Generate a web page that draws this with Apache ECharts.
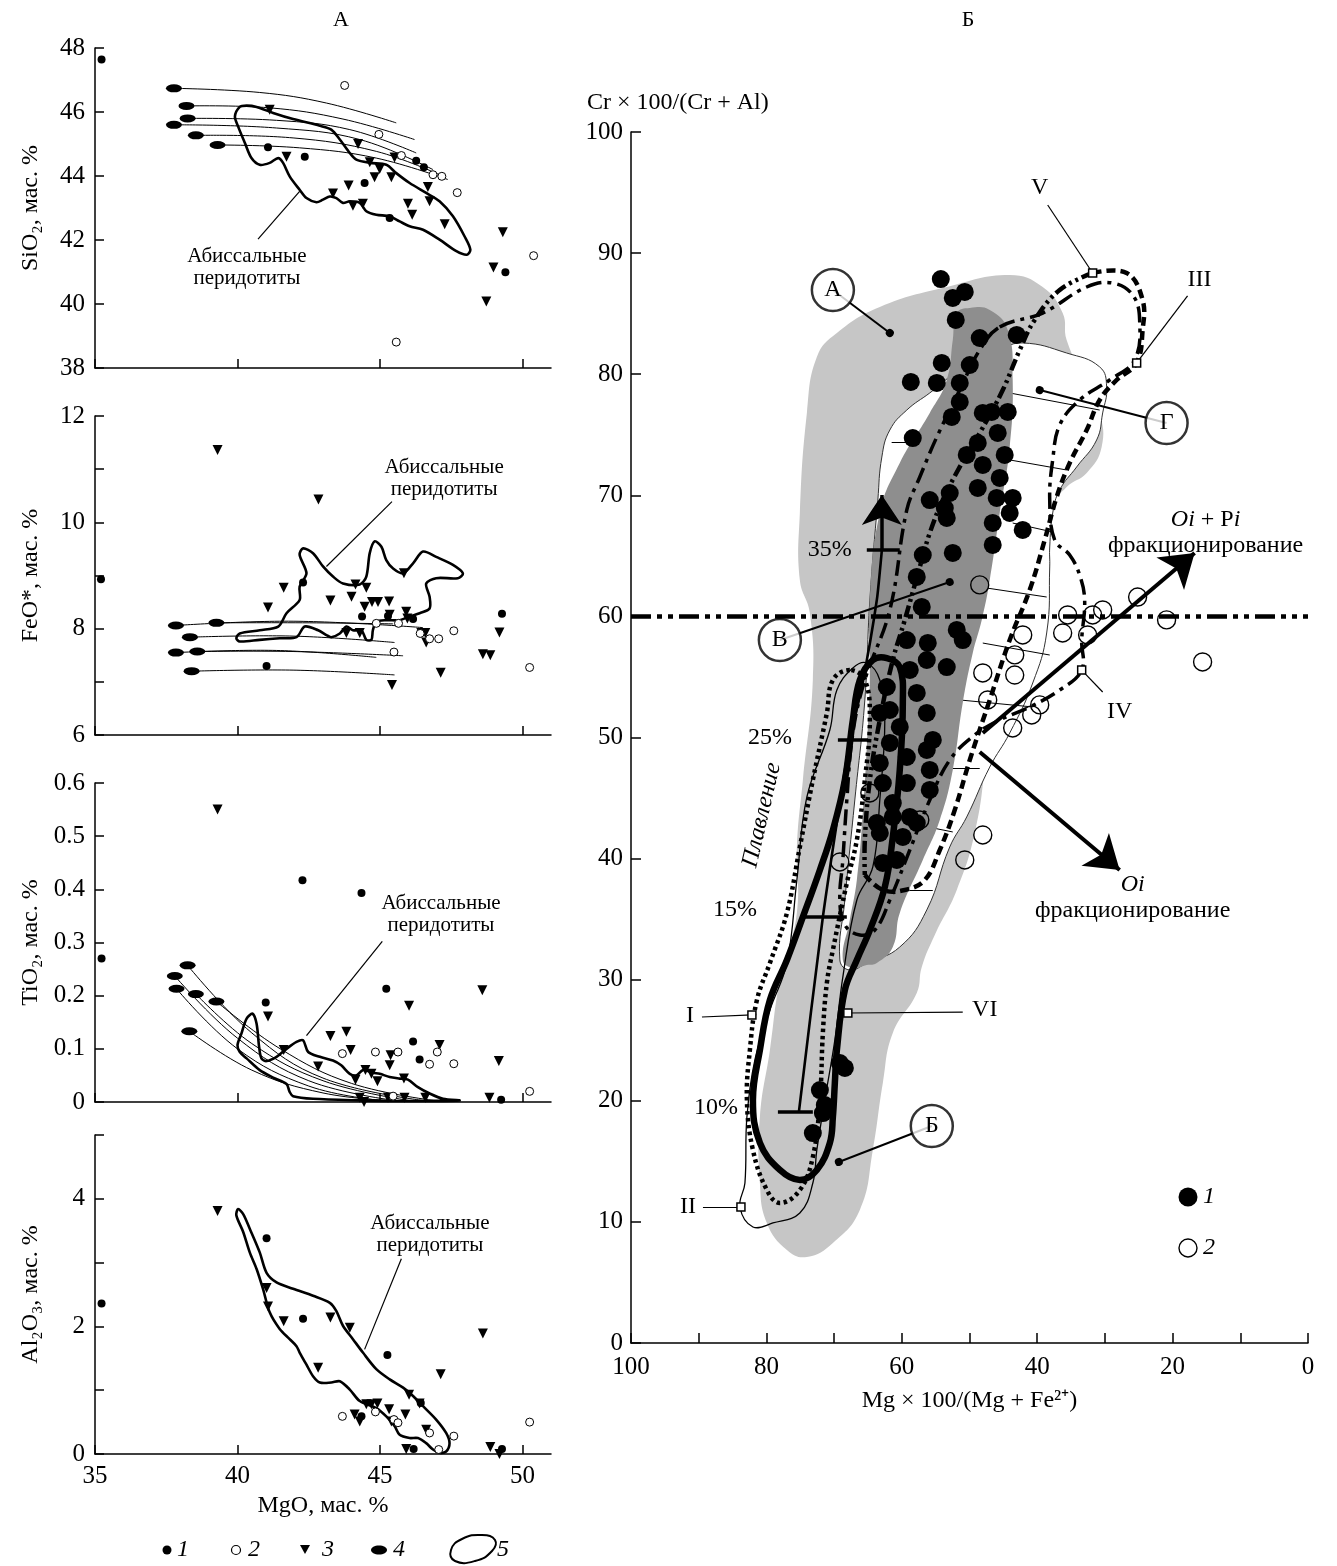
<!DOCTYPE html>
<html><head><meta charset="utf-8">
<script src="https://cdn.jsdelivr.net/npm/echarts/dist/echarts.min.js"></script>
<style>html,body{margin:0;padding:0;background:#fff}#c{width:1337px;height:1566px}</style>
</head><body><div id="c"></div>
<script>
// ================= PANEL А (MgO diagrams) =================
const mgoTicks = [35, 40, 45, 50];
const sio2Ticks = [38, 40, 42, 44, 46, 48];
const feoLabelTicks = [6, 8, 10, 12];
const tio2Ticks = [0, 0.1, 0.2, 0.3, 0.4, 0.5, 0.6];
const al2o3LabelTicks = [0, 2, 4];

// SiO2 vs MgO
const sio2_g1 = [[35.23,47.64],[41.07,44.9],[42.36,44.6],[44.46,43.78],[45.34,42.69],[46.27,44.48],[46.54,44.27],[49.4,40.99]];
const sio2_g2 = [[43.76,46.83],[44.96,45.3],[45.75,44.64],[46.86,44.04],[47.17,43.99],[47.71,43.48],[45.57,38.81],[50.39,41.51]];
const sio2_g3 = [[41.13,46.07],[41.72,44.6],[44.23,45.0],[43.35,43.45],[43.9,43.7],[44.05,43.07],[44.4,43.13],[44.64,44.43],[44.81,43.96],[44.99,44.22],[45.4,43.96],[45.51,44.58],[45.98,43.13],[46.13,42.79],[46.68,43.66],[46.74,43.21],[47.27,42.49],[48.73,40.08],[48.98,41.14],[49.31,42.24]];
const sio2_g4 = [[37.77,46.74],[38.21,46.19],[38.25,45.8],[37.77,45.6],[38.54,45.27],[39.3,44.97]];
const sio2_curves = [
  [[37.77,46.74],[40.78,46.61],[43.12,46.28],[45.57,45.66]],
  [[38.21,46.19],[41.13,46.13],[43.7,45.78],[46.21,45.14]],
  [[38.25,45.8],[41.37,45.74],[43.94,45.45],[46.27,44.72]],
  [[37.77,45.6],[41.37,45.5],[44.29,45.14],[46.86,44.2]],
  [[38.54,45.27],[41.95,45.19],[44.87,44.77],[47.09,44.04]],
  [[39.3,44.97],[42.18,44.88],[44.87,44.56],[47.38,43.89]]
];
const sio2_field = [[40.08,46.16],[40.32,46.2],[40.67,46.16],[41.25,45.97],[41.95,45.78],[42.89,45.57],[43.29,45.45],[43.59,45.14],[43.94,44.72],[44.17,44.51],[44.64,44.41],[45.22,44.35],[45.57,44.09],[46.04,43.78],[46.62,43.47],[47.09,43.21],[47.56,42.74],[47.97,42.11],[48.17,41.7],[48.05,41.54],[47.68,41.65],[47.09,42.01],[46.51,42.32],[46.04,42.43],[45.69,42.58],[45.34,42.74],[44.87,42.79],[44.52,42.9],[44.29,43.16],[43.94,43.21],[43.7,43.16],[43.47,43.31],[43.24,43.36],[43.0,43.26],[42.77,43.18],[42.42,43.31],[42.18,43.57],[41.83,43.99],[41.6,44.41],[41.43,44.56],[41.13,44.41],[40.78,44.35],[40.49,44.56],[40.26,45.03],[40.02,45.55],[39.91,45.86]];

// FeO* vs MgO
const feo_g1 = [[35.21,8.93],[42.3,8.87],[44.37,8.23],[41.02,7.3],[46.16,8.18],[49.28,8.28],[45.28,8.24]];
const feo_g2 = [[44.87,8.1],[45.65,8.1],[45.49,7.56],[46.74,7.81],[47.06,7.81],[47.59,7.96],[50.25,7.27],[46.41,7.91]];
const feo_g3 = [[39.3,11.36],[42.84,10.43],[41.07,8.4],[41.62,8.77],[43.26,8.53],[44.0,8.6],[44.14,8.83],[44.52,8.77],[44.46,8.41],[44.72,8.5],[44.93,8.5],[45.32,8.51],[45.34,8.26],[45.84,9.04],[45.92,8.32],[45.96,8.19],[43.82,7.92],[44.29,7.92],[46.45,7.92],[46.59,7.92],[46.62,7.74],[45.42,6.94],[47.13,7.17],[48.61,7.52],[48.87,7.5],[49.19,7.93]];
const feo_g4 = [[37.84,8.06],[39.26,8.11],[38.33,7.84],[37.84,7.55],[38.59,7.57],[38.39,7.2]];
const feo_curves = [
  [[37.84,8.06],[41.95,8.14],[46.51,8.02]],
  [[39.26,8.11],[42.54,8.11],[45.46,8.09]],
  [[38.33,7.84],[41.95,7.86],[45.51,7.74]],
  [[37.84,7.55],[41.37,7.59],[44.87,7.46]],
  [[38.59,7.57],[41.95,7.57],[45.81,7.49]],
  [[38.39,7.2],[41.95,7.22],[45.51,7.13]]
];
const feo_field = [[39.96,7.82],[40.08,7.91],[40.78,7.97],[41.43,8.04],[41.72,8.29],[42.18,8.54],[42.18,8.79],[42.42,9.04],[42.18,9.39],[42.3,9.51],[42.65,9.42],[43.0,9.17],[43.35,8.98],[43.7,8.85],[44.29,8.83],[44.52,8.98],[44.64,9.42],[44.81,9.64],[45.05,9.54],[45.22,9.29],[45.46,9.13],[45.81,9.04],[46.16,9.23],[46.51,9.45],[46.97,9.35],[47.56,9.2],[47.91,9.04],[47.73,8.95],[46.97,8.95],[46.62,8.85],[46.74,8.6],[46.74,8.38],[46.39,8.29],[46.04,8.23],[45.69,8.16],[45.22,8.16],[44.87,8.13],[44.75,7.97],[44.7,7.79],[44.52,7.79],[44.35,7.97],[44.05,7.97],[43.82,8.04],[43.59,7.91],[43.29,7.84],[43.12,7.88],[42.83,7.97],[42.36,8.04],[42.07,7.84],[41.48,7.82],[40.78,7.79],[40.08,7.76]];

// TiO2 vs MgO
const tio2_g1 = [[35.23,0.27],[42.28,0.417],[44.35,0.393],[40.99,0.187],[45.22,0.213],[46.16,0.114],[46.39,0.08],[49.25,0.004]];
const tio2_g2 = [[43.68,0.091],[44.84,0.094],[45.63,0.094],[46.74,0.071],[47.01,0.094],[47.59,0.072],[45.46,0.011],[50.25,0.02]];
const tio2_g3 = [[39.3,0.55],[41.07,0.161],[41.62,0.098],[42.83,0.067],[43.26,0.124],[43.82,0.132],[43.97,0.098],[44.14,0.042],[44.49,0.06],[44.7,0.053],[44.91,0.039],[45.37,0.088],[45.34,0.069],[45.84,0.044],[46.02,0.181],[47.09,0.107],[44.44,0.0],[44.29,0.008],[45.28,0.008],[45.86,0.008],[46.59,0.008],[48.59,0.21],[48.84,0.008],[49.17,0.077]];
const tio2_g4 = [[38.25,0.257],[37.8,0.237],[37.86,0.213],[38.54,0.203],[39.26,0.189],[38.31,0.133]];
const tio2_curves = [
  [[38.25,0.257],[40.5,0.13],[43,0.045],[46.5,0.003]],
  [[37.8,0.237],[40,0.12],[42.5,0.04],[45.5,0.003]],
  [[37.86,0.213],[40,0.1],[42.5,0.03],[45,0.003]],
  [[38.54,0.203],[40.5,0.11],[43,0.04],[46,0.003]],
  [[39.26,0.189],[41.5,0.1],[44,0.035],[47,0.002]],
  [[38.31,0.133],[40.5,0.06],[43,0.017],[45.5,0.002]]
];
const tio2_field = [[40.0,0.107],[40.14,0.129],[40.32,0.157],[40.53,0.166],[40.67,0.147],[40.76,0.103],[40.84,0.082],[41.02,0.077],[41.37,0.085],[41.72,0.1],[42.07,0.113],[42.3,0.116],[42.48,0.094],[42.89,0.085],[43.35,0.078],[43.64,0.069],[43.94,0.053],[44.17,0.05],[44.4,0.06],[44.75,0.055],[44.99,0.053],[45.34,0.047],[45.69,0.044],[45.98,0.042],[46.33,0.028],[46.74,0.016],[47.21,0.006],[47.79,0.003],[46.62,0.002],[45.46,0.002],[44.29,0.003],[42.65,0.006],[41.95,0.011],[41.83,0.019],[41.72,0.034],[41.25,0.046],[40.78,0.06],[40.32,0.082],[40.08,0.094]];

// Al2O3 vs MgO
const al2o3_g1 = [[35.23,2.36],[41.02,3.38],[42.3,2.12],[45.26,1.55],[46.43,0.8],[44.35,0.59],[46.18,0.08],[49.28,0.08]];
const al2o3_g2 = [[43.68,0.59],[44.84,0.66],[45.49,0.54],[45.63,0.49],[46.74,0.33],[47.59,0.28],[47.06,0.07],[50.25,0.5]];
const al2o3_g3 = [[39.3,3.81],[41.02,2.6],[41.07,2.31],[41.62,2.08],[42.83,1.35],[43.26,2.14],[43.94,1.98],[44.11,0.62],[44.29,0.51],[44.52,0.78],[44.7,0.78],[44.91,0.79],[45.32,0.7],[45.4,0.51],[45.89,0.62],[46.02,0.93],[46.39,0.79],[46.62,0.38],[45.92,0.08],[47.13,1.25],[48.61,1.89],[48.87,0.11],[49.19,0.0]];
const al2o3_field = [[40.02,3.84],[40.2,3.76],[40.43,3.53],[40.78,3.16],[41.02,2.84],[41.37,2.69],[41.95,2.59],[42.65,2.48],[43.24,2.37],[43.47,2.24],[43.7,2.01],[44.05,1.8],[44.4,1.59],[44.87,1.33],[45.34,1.17],[45.81,1.04],[46.16,0.91],[46.51,0.75],[46.97,0.54],[47.32,0.33],[47.44,0.17],[47.32,0.04],[47.09,0.02],[46.86,0.07],[46.62,0.17],[46.33,0.25],[46.04,0.25],[45.69,0.3],[45.51,0.44],[45.22,0.59],[44.87,0.72],[44.29,0.83],[43.94,1.01],[43.59,1.14],[43.29,1.12],[42.89,1.12],[42.65,1.22],[42.42,1.4],[42.18,1.59],[42.07,1.69],[41.83,1.8],[41.48,1.96],[41.13,2.22],[40.9,2.58],[40.67,2.9],[40.43,3.16],[40.2,3.48],[39.96,3.74]];

// ================= PANEL Б (Cr# vs Mg#) =================
const mgTicks = [0, 20, 40, 60, 80, 100];
const crTicks = [0, 10, 20, 30, 40, 50, 60, 70, 80, 90, 100];

const cr_g1 = [[54.24,87.86],[50.70,86.79],[52.47,86.30],[52.03,84.48],[48.49,82.99],[43.03,83.24],[54.10,80.93],[49.96,80.76],[58.67,79.36],[54.83,79.28],[51.44,79.28],[51.44,77.71],[52.62,76.47],[48.04,76.80],[44.35,76.88],[46.72,76.88],[45.83,75.15],[48.78,74.32],[50.41,73.33],[44.80,73.33],[48.04,72.51],[45.54,71.43],[58.38,74.73],[48.78,70.61],[45.98,69.78],[43.62,69.78],[52.92,70.19],[55.87,69.61],[53.65,68.95],[53.36,68.13],[46.57,67.72],[44.06,68.54],[42.14,67.14],[46.57,65.90],[56.90,65.07],[52.47,65.24],[57.79,63.26],[57.05,60.78],[51.88,58.88],[51.0,58.05],[53.36,55.82],[59.26,58.05],[56.16,57.81],[56.31,56.40],[58.82,55.58],[57.79,53.68],[56.31,52.03],[62.21,54.17],[63.25,52.03],[61.77,52.27],[60.30,50.87],[55.42,49.80],[56.31,48.97],[61.77,49.55],[59.26,48.39],[63.25,47.90],[55.87,47.32],[55.87,45.67],[62.80,46.24],[59.26,46.24],[61.33,44.59],[61.33,43.44],[57.79,42.94],[59.85,41.79],[63.25,42.12],[60.74,39.89],[62.80,39.64],[58.82,43.44],[63.69,42.94],[69.15,23.12],[68.41,22.71],[72.10,20.89],[71.37,19.65],[71.66,18.99],[73.14,17.34]];
const cr_g2 = [[48.49,62.60],[25.17,61.60],[30.33,60.53],[35.5,60.12],[31.81,60.12],[20.89,59.71],[42.14,58.47],[36.24,58.63],[32.55,58.47],[15.57,56.24],[43.32,56.82],[43.32,55.16],[48.04,55.33],[47.31,53.10],[39.63,52.69],[40.81,51.86],[43.62,50.79],[57.34,43.19],[48.04,41.95],[50.70,39.89],[64.72,45.42],[69.15,39.72]];

const field_light = [[75.06,68.54],[74.02,76.8],[72.55,81.42],[69.59,83.4],[63.25,85.55],[53.36,87.2],[44.06,88.19],[39.19,87.2],[36.24,85.05],[35.65,82.82],[32.99,79.52],[30.77,76.8],[30.48,73.99],[32.69,71.84],[35.65,70.69],[39.63,67.96],[44.06,61.35],[47.01,53.1],[47.75,47.56],[49.23,42.12],[51.88,37.41],[55.13,33.69],[57.05,31.05],[57.79,28.9],[61.33,25.6],[62.8,21.47],[64.28,15.94],[66.2,10.98],[70.18,8.26],[74.02,7.1],[76.97,7.68],[79.93,9.91],[80.96,13.21],[80.96,18.66],[79.48,24.19],[78.01,29.98],[75.5,35.51],[75.5,40.96],[74.61,46.49],[73.14,54.75],[73.58,60.28],[75.06,63.01]];
const field_white = [[63.54,69.61],[62.95,73.16],[61.77,75.39],[59.26,77.04],[55.87,78.45],[51.44,80.35],[45.54,82.0],[42.14,82.58],[35.65,81.75],[30.77,80.6],[29.74,78.94],[30.33,76.8],[31.22,74.57],[34.17,72.34],[36.68,70.44],[37.71,68.54],[38.15,65.73],[38.15,64.08],[38.6,58.63],[40.66,54.5],[44.06,50.37],[47.01,47.56],[50.41,43.44],[52.92,40.96],[56.31,35.76],[60.3,32.7],[65.17,31.38],[67.68,30.8],[69.15,31.63],[68.41,36.58],[66.94,44.84],[65.46,53.1],[64.72,61.35]];
const field_dark = [[51.88,85.05],[49.96,85.47],[47.01,85.3],[44.35,83.65],[43.62,79.52],[44.06,73.99],[45.54,68.54],[47.01,63.01],[48.19,59.7],[49.52,56.98],[51.0,52.85],[52.47,47.32],[54.39,43.19],[56.9,39.88],[60.3,35.51],[61.33,32.7],[63.69,31.38],[65.17,31.21],[67.23,30.97],[68.71,31.63],[67.68,34.93],[66.64,38.23],[65.76,43.77],[65.17,49.22],[64.72,54.75],[64.72,61.35],[63.25,68.54],[60.3,72.67],[55.87,76.8],[53.36,79.52],[52.47,82.82]];
const hatch_G = [
  [[44.06,78.45],[30.77,77.04]],[[44.06,72.92],[35.65,72.09]],[[43.62,67.71],[37.71,66.97]],
  [[48.49,62.43],[38.6,61.6]],[[48.04,57.8],[38.15,56.81]],[[51.44,53.1],[40.66,52.52]],
  [[53.36,47.48],[48.49,47.48]],[[55.42,42.53],[52.47,42.2]],[[58.82,37.41],[55.42,37.41]],
  [[61.5,74.4],[58.4,74.4]]
];
const trend_VI = [[64.28,56.4],[62.21,56.56],[60.3,55.82],[59.85,52.85],[60.3,47.32],[61.33,41.78],[62.51,37.65],[64.72,34.1],[66.64,31.63],[68.41,29.15],[69.59,24.19],[69.89,21.47],[70.18,18.66],[70.63,16.52],[72.55,14.29],[75.06,13.46],[78.01,14.29],[80.96,16.52],[81.99,20.07],[80.96,24.19],[79.48,28.32],[76.97,31.63],[74.61,35.18],[72.1,39.06],[70.18,42.36],[68.41,46.49],[67.23,51.45],[66.2,54.75]];
const trend_II = [[83.91,11.23],[81.99,9.58],[79.04,9.91],[75.06,10.73],[73.14,13.21],[72.55,15.94],[71.37,20.07],[69.89,25.02],[68.71,30.22],[66.64,36.58],[64.28,39.31],[63.25,44.84],[62.51,51.45],[63.25,54.75],[65.17,56.15],[67.23,55.74],[69.59,53.92],[70.63,50.62],[74.02,45.09],[75.5,38.23],[76.97,31.38],[79.48,27.5],[81.7,23.37],[82.88,18.66],[83.17,13.21]];
const trend_I = [[67.68,55.57],[70.18,54.75],[71.07,52.02],[73.14,46.49],[75.06,40.96],[76.97,35.51],[79.48,31.38],[81.4,28.32],[82.44,24.19],[82.88,20.07],[81.99,15.94],[79.93,12.63],[78.01,11.56],[75.06,12.63],[73.14,15.36],[72.1,20.07],[71.66,25.6],[71.07,29.73],[70.18,32.45],[68.12,37.99],[66.64,41.54],[65.46,46.49],[64.72,51.45],[65.46,54.75]];
const trend_III = [[31.81,88.36],[26.79,88.36],[24.43,86.13],[24.43,83.65],[25.31,80.93],[28.27,79.52],[30.77,77.87],[32.69,75.39],[35.2,72.67],[37.12,69.86],[38.89,66.31],[41.11,62.18],[44.06,58.05],[47.01,53.1],[49.96,48.14],[52.18,44.01],[54.39,40.71],[56.61,38.23],[59.56,37.41],[62.8,37.41],[65.46,38.65]];
const trend_V = [[31.81,88.36],[36.68,86.95],[40.37,84.48],[42.58,82.0],[45.09,78.69],[48.49,75.14],[51.44,72.34],[53.95,69.61],[55.87,66.89],[57.34,64.08],[59.56,59.7],[61.33,56.4],[63.25,51.45],[64.72,46.49],[65.46,41.54],[65.46,38.65]];
const trend_IV = [[45.54,83.9],[39.19,85.05],[32.69,87.2],[28.86,87.53],[25.9,86.54],[24.87,84.48],[25.61,81.17],[29.3,79.52],[33.73,77.87],[36.68,75.8],[37.71,72.92],[38.15,69.61],[37.42,66.31],[35.2,65.07],[33.73,63.42],[32.99,61.35],[33.43,58.05],[33.43,55.57],[36.68,53.92],[41.11,52.52],[45.54,51.45],[49.23,50.21],[52.92,48.14],[55.87,44.84],[58.82,40.71],[61.77,36.58],[63.99,34.1],[66.2,33.69],[68.41,34.52],[69.15,36.58],[68.71,39.88],[68.12,44.84],[67.23,50.37],[65.46,54.75],[61.77,60.53],[59.26,68.79],[57.34,71.51],[54.83,74.81],[51.44,78.69],[48.49,82.0]];
const crLevel60 = [[100,60],[0,60]];
const meltPath = [[75.2,19.08],[71.66,35.18],[67.68,49.79],[65.9,54.17],[63.69,61.35],[62.95,65.48]];
const meltArrow = [[62.95,65.48],[62.95,70.02]];
const meltDegrees = ['10%', '15%', '25%', '35%'];
const meltTickBars = [[[78.3,19.08],[73.14,19.08]],[[74.61,35.18],[68.12,35.18]],[[69.44,49.79],[65.02,49.79]],[[65.17,65.48],[60.3,65.48]]];
const arrowOlPl = [[48.04,50.37],[16.75,65.24]];
const arrowOl = [[48.49,48.8],[27.82,39.06]];
const trendNames = ['I', 'II', 'III', 'IV', 'V', 'VI'];
const trendMarks = [[82.14,27.09],[83.76,11.23],[25.31,80.93],[33.43,55.57],[31.81,88.36],[67.97,27.25]];

// ================= annotation placement =================
const FONT = 'Liberation Serif';
const ANN_A = [
  {g:0, pos:[40.33,41.13], lead:[[40.72,42.03],[42.18,43.52]]},
  {g:1, pos:[47.25,10.83], lead:[[45.42,10.39],[43.12,9.17]]},
  {g:2, pos:[47.14,0.352], lead:[[45.08,0.302],[42.42,0.125]]},
  {g:3, pos:[46.75,3.44], lead:[[45.75,3.06],[44.46,1.64]]}
];
const CIRC = [
  {t:'А', pos:[70.18,86.95], dot:[61.77,83.4]},
  {t:'Б', pos:[55.57,17.92], dot:[69.3,14.95]},
  {t:'В', pos:[78.01,58.05], dot:[52.92,62.84]},
  {t:'Г', pos:[20.89,75.97], dot:[39.63,78.69]}
];
const ROMAN_POS = [[91.29,27.0],[91.58,11.23],[16.01,87.78],[27.82,52.1],[39.63,95.38],[47.75,27.5]];
const ROMAN_LEAD_FROM = [[89.52,26.92],[89.37,11.23],[17.79,86.46],[30.33,53.76],[38.45,93.97],[51.0,27.33]];
const MELT_LBL_POS = [[87.45,19.41],[84.65,35.76],[79.48,49.96],[70.63,65.48]];

// ================= helpers =================
function sc(g, data, sym, size, fill, stroke, bw, rot, z) {
  return {type:'scatter', xAxisIndex:g, yAxisIndex:g, data:data, symbol:sym, symbolSize:size,
    symbolRotate:rot||0, z:z||5, silent:true, animation:false, clip:false,
    itemStyle:{color:fill, borderColor:stroke, borderWidth:bw, opacity:1}};
}
function shape(g, pts, o) {
  return {type:'custom', xAxisIndex:g, yAxisIndex:g, z:o.z||3, silent:true, animation:false,
    data:[pts[0]],
    renderItem:function(params, api){
      var p = pts.map(function(d){return api.coord(d);});
      return {type:o.closed?'polygon':'polyline', shape:{points:p, smooth:o.smooth==null?0.35:o.smooth},
        style:{fill:o.fill||'none', stroke:o.stroke||'none', lineWidth:o.lw||1, lineDash:o.dash||null, lineCap:o.cap||'butt', lineJoin:'round'}};
    }};
}
function segs(g, list, w, endSym, symSize, z) {
  return {type:'lines', coordinateSystem:'cartesian2d', xAxisIndex:g, yAxisIndex:g, z:z||8,
    silent:true, animation:false, symbol:['none', endSym||'none'], symbolSize:symSize||10,
    lineStyle:{color:'#000', width:w, opacity:1, curveness:0},
    data:list.map(function(c){return {coords:c};})};
}
const TXT = {color:'#000', textBorderWidth:0, textBorderColor:'transparent', textShadowBlur:0, opacity:1};
function txt(g, pos, text, o) {
  o = o || {};
  return {type:'scatter', xAxisIndex:g, yAxisIndex:g, z:o.z||12, silent:true, animation:false, clip:false,
    symbolSize:1, itemStyle:{color:'rgba(0,0,0,0)'},
    data:[{value:pos}],
    label:Object.assign({show:true, position:'inside', formatter:text, fontFamily:FONT, fontSize:o.fs||22,
      fontStyle:o.italic?'italic':'normal', lineHeight:o.lh||(o.fs||22)+1,
      rotate:o.rot||0, rich:o.rich||{}}, TXT)};
}

// ================= series =================
const series = [];
const ELL = 'path://M0,5A10,5,0,1,1,20,5A10,5,0,1,1,0,5Z';
const A = [
  {g1:sio2_g1, g2:sio2_g2, g3:sio2_g3, g4:sio2_g4, cur:sio2_curves, fld:sio2_field},
  {g1:feo_g1, g2:feo_g2, g3:feo_g3, g4:feo_g4, cur:feo_curves, fld:feo_field},
  {g1:tio2_g1, g2:tio2_g2, g3:tio2_g3, g4:tio2_g4, cur:tio2_curves, fld:tio2_field},
  {g1:al2o3_g1, g2:al2o3_g2, g3:al2o3_g3, g4:null, cur:null, fld:al2o3_field}
];
A.forEach(function(p, g){
  if (p.cur) p.cur.forEach(function(c){ series.push(shape(g, c, {stroke:'#000', lw:1, smooth:0.4, z:3})); });
  series.push(shape(g, p.fld, {closed:true, stroke:'#000', lw:2.6, smooth:0.3, z:4}));
  if (p.g4) series.push(sc(g, p.g4, ELL, [16,8], '#000', '#000', 0, 0, 6));
  series.push(sc(g, p.g3, 'triangle', 10, '#000', '#000', 0, 180, 6));
  series.push(sc(g, p.g1, 'circle', 8, '#000', '#000', 0, 0, 6));
  series.push(sc(g, p.g2, 'circle', 8, '#fff', '#000', 1, 0, 6));
});
ANN_A.forEach(function(a){
  series.push(segs(a.g, [a.lead], 1.2, 'none', 1, 7));
  series.push(txt(a.g, a.pos, 'Абиссальные\nперидотиты', {fs:21, lh:22}));
});

// Panel Б
const G = 4;
series.push(shape(G, field_light, {closed:true, fill:'#c6c6c6', smooth:0.45, z:1}));
series.push(shape(G, field_white, {closed:true, fill:'#ffffff', stroke:'#333', lw:1, smooth:0.45, z:2}));
series.push(segs(G, hatch_G, 1, 'none', 1, 2));
series.push(shape(G, field_dark, {closed:true, fill:'#8e8e8e', smooth:0.45, z:3}));
series.push(sc(G, cr_g1, 'circle', 18, '#000', '#000', 0, 0, 5));
series.push(shape(G, trend_II, {closed:true, stroke:'#000', lw:1.3, smooth:0.4, z:6}));
series.push(shape(G, trend_I, {closed:true, stroke:'#000', lw:4.5, dash:[3.5,3.5], smooth:0.4, z:6}));
series.push(shape(G, trend_VI, {closed:true, stroke:'#000', lw:6.5, smooth:0.4, z:6}));
series.push(shape(G, trend_III, {stroke:'#000', lw:4.5, dash:[9,5], smooth:0.4, z:6}));
series.push(shape(G, trend_V, {stroke:'#000', lw:4.5, dash:[12,4,3,4,3,4], smooth:0.4, z:6}));
series.push(shape(G, trend_IV, {closed:true, stroke:'#000', lw:3.5, dash:[16,6,4,6], smooth:0.4, z:6}));
series.push(shape(G, crLevel60, {stroke:'#000', lw:4.5, dash:[20,6,5,6,5,6], smooth:0, z:6}));
series.push(sc(G, cr_g2, 'circle', 18, 'rgba(255,255,255,0)', '#000', 1.4, 0, 7));
// melting trend
series.push(shape(G, meltPath, {stroke:'#000', lw:2.6, smooth:0.2, z:8}));
series.push(segs(G, [meltArrow], 3.5, 'arrow', 30, 8));
series.push(segs(G, meltTickBars, 3.5, 'none', 1, 8));
meltDegrees.forEach(function(t, i){ series.push(txt(G, MELT_LBL_POS[i], t, {fs:24})); });
series.push(txt(G, [80.66,43.6], 'Плавление', {fs:24, italic:true, rot:77}));
// fractionation arrows
series.push(segs(G, [arrowOlPl, arrowOl], 4, 'arrow', 32, 9));
const RICH_IT = {it:Object.assign({fontStyle:'italic', fontFamily:FONT, fontSize:24, lineHeight:26}, TXT)};
series.push(txt(G, [15.13,66.89], '{it|Oi} + P{it|i}\nфракционирование', {fs:24, lh:26, rich:RICH_IT}));
series.push(txt(G, [25.9,36.75], '{it|Oi}\nфракционирование', {fs:24, lh:26, rich:RICH_IT}));
// circled field labels
series.push(segs(G, CIRC.map(function(c){return [c.pos, c.dot];}), 2, 'circle', 8, 10));
series.push({type:'scatter', xAxisIndex:G, yAxisIndex:G, z:11, silent:true, animation:false,
  symbol:'circle', symbolSize:42, itemStyle:{color:'#fff', borderColor:'#000', borderWidth:2.5},
  data:CIRC.map(function(c){return {name:c.t, value:c.pos};}),
  label:Object.assign({show:true, position:'inside', formatter:'{b}', fontFamily:FONT, fontSize:24}, TXT)});
// trend roman labels
series.push(segs(G, trendMarks.map(function(m, i){return [ROMAN_LEAD_FROM[i], m];}), 1.2, 'none', 1, 10));
series.push(sc(G, trendMarks, 'rect', 8, '#fff', '#000', 1.5, 0, 11));
trendNames.forEach(function(t, i){ series.push(txt(G, ROMAN_POS[i], t, {fs:24})); });

// ================= axes =================
const axLine = {onZero:false, lineStyle:{color:'#000', width:1.5}};
const tickStyle = {color:'#000', width:1.5};
const lab = {fontFamily:FONT, fontSize:25, color:'#000'};
const xAxes = [0,1,2,3].map(function(g){
  return {gridIndex:g, type:'value', min:35, max:51, axisLine:axLine, splitLine:{show:false},
    axisTick:{inside:true, length:9, customValues:mgoTicks, lineStyle:tickStyle},
    axisLabel:Object.assign({show:g===3, customValues:mgoTicks, margin:10}, lab),
    name:g===3?'MgO, мас. %':'', nameLocation:'middle', nameGap:40,
    nameTextStyle:{fontFamily:FONT, fontSize:24, color:'#000'}};
});
xAxes.push({gridIndex:4, type:'value', min:0, max:100, interval:10, inverse:true, axisLine:axLine,
  splitLine:{show:false}, axisTick:{inside:true, length:10, lineStyle:tickStyle},
  axisLabel:Object.assign({customValues:mgTicks, margin:12}, lab),
  name:'Mg × 100/(Mg + Fe²⁺)', nameLocation:'middle', nameGap:46,
  nameTextStyle:{fontFamily:FONT, fontSize:24, color:'#000'}});
function yA(g, min, max, iv, name, labelVals, fmt) {
  return {gridIndex:g, type:'value', position:'left', min:min, max:max, interval:iv, axisLine:axLine, splitLine:{show:false},
    axisTick:{inside:true, length:9, lineStyle:tickStyle},
    axisLabel:Object.assign({margin:10, customValues:labelVals, formatter:fmt}, lab),
    name:name, nameLocation:'middle', nameGap:52, nameRotate:90,
    nameTextStyle:{fontFamily:FONT, fontSize:24, color:'#000'}};
}
const yAxes = [
  yA(0, 38, 48, 2, 'SiO₂, мас. %', sio2Ticks),
  yA(1, 6, 12, 1, 'FeO*, мас. %', feoLabelTicks),
  yA(2, 0, 0.6, 0.1, 'TiO₂, мас. %', tio2Ticks, function(v){return v===0?'0':v.toFixed(1);}),
  yA(3, 0, 5, 1, 'Al₂O₃, мас. %', al2o3LabelTicks),
  {gridIndex:4, type:'value', position:'left', min:0, max:100, interval:10, axisLine:axLine, splitLine:{show:false},
   axisTick:{inside:true, length:10, lineStyle:tickStyle},
   axisLabel:Object.assign({margin:8, customValues:crTicks}, lab)}
];

// ================= graphic (titles, legends) =================
const tf = function(s, it){ return (it?'italic ':'') + s + 'px "Liberation Serif"'; };
const graphic = [
  {type:'text', x:341, y:20, style:{text:'А', font:tf(22), fill:'#000', align:'center', verticalAlign:'middle'}},
  {type:'text', x:968, y:20, style:{text:'Б', font:tf(22), fill:'#000', align:'center', verticalAlign:'middle'}},
  {type:'text', x:587, y:103, style:{text:'Cr × 100/(Cr + Al)', font:tf(24), fill:'#000', align:'left', verticalAlign:'middle'}},
  // left legend
  {type:'circle', shape:{cx:167, cy:1550, r:4.5}, style:{fill:'#000'}},
  {type:'text', x:177, y:1550, style:{text:'1', font:tf(24,true), fill:'#000', verticalAlign:'middle'}},
  {type:'circle', shape:{cx:236, cy:1550, r:4.5}, style:{fill:'#fff', stroke:'#000', lineWidth:1.2}},
  {type:'text', x:248, y:1550, style:{text:'2', font:tf(24,true), fill:'#000', verticalAlign:'middle'}},
  {type:'polygon', shape:{points:[[300,1545],[310,1545],[305,1554]]}, style:{fill:'#000'}},
  {type:'text', x:322, y:1550, style:{text:'3', font:tf(24,true), fill:'#000', verticalAlign:'middle'}},
  {type:'ellipse', shape:{cx:379, cy:1550, rx:8, ry:4.5}, style:{fill:'#000'}},
  {type:'text', x:393, y:1550, style:{text:'4', font:tf(24,true), fill:'#000', verticalAlign:'middle'}},
  {type:'polygon', shape:{points:[[455,1561],[451,1550],[462,1539],[482,1535],[495,1540],[492,1551],[475,1561]], smooth:0.5}, style:{fill:'none', stroke:'#000', lineWidth:2}},
  {type:'text', x:497, y:1550, style:{text:'5', font:tf(24,true), fill:'#000', verticalAlign:'middle'}},
  // right legend
  {type:'circle', shape:{cx:1188, cy:1197, r:9.5}, style:{fill:'#000'}},
  {type:'text', x:1203, y:1197, style:{text:'1', font:tf(24,true), fill:'#000', verticalAlign:'middle'}},
  {type:'circle', shape:{cx:1188, cy:1248, r:9}, style:{fill:'#fff', stroke:'#000', lineWidth:1.4}},
  {type:'text', x:1203, y:1248, style:{text:'2', font:tf(24,true), fill:'#000', verticalAlign:'middle'}}
];

const chart = echarts.init(document.getElementById('c'), null, {renderer:'canvas'});
chart.setOption({
  backgroundColor:'#fff',
  animation:false,
  textStyle:{fontFamily:FONT},
  grid:[
    {left:95, top:48, width:456, height:320, outerBoundsMode:'none'},
    {left:95, top:416, width:456, height:319, outerBoundsMode:'none'},
    {left:95, top:783, width:456, height:319, outerBoundsMode:'none'},
    {left:95, top:1135, width:456, height:319, outerBoundsMode:'none'},
    {left:631, top:132, width:677, height:1211, outerBoundsMode:'none'}
  ],
  xAxis:xAxes, yAxis:yAxes, series:series, graphic:graphic
});
</script></body></html>
